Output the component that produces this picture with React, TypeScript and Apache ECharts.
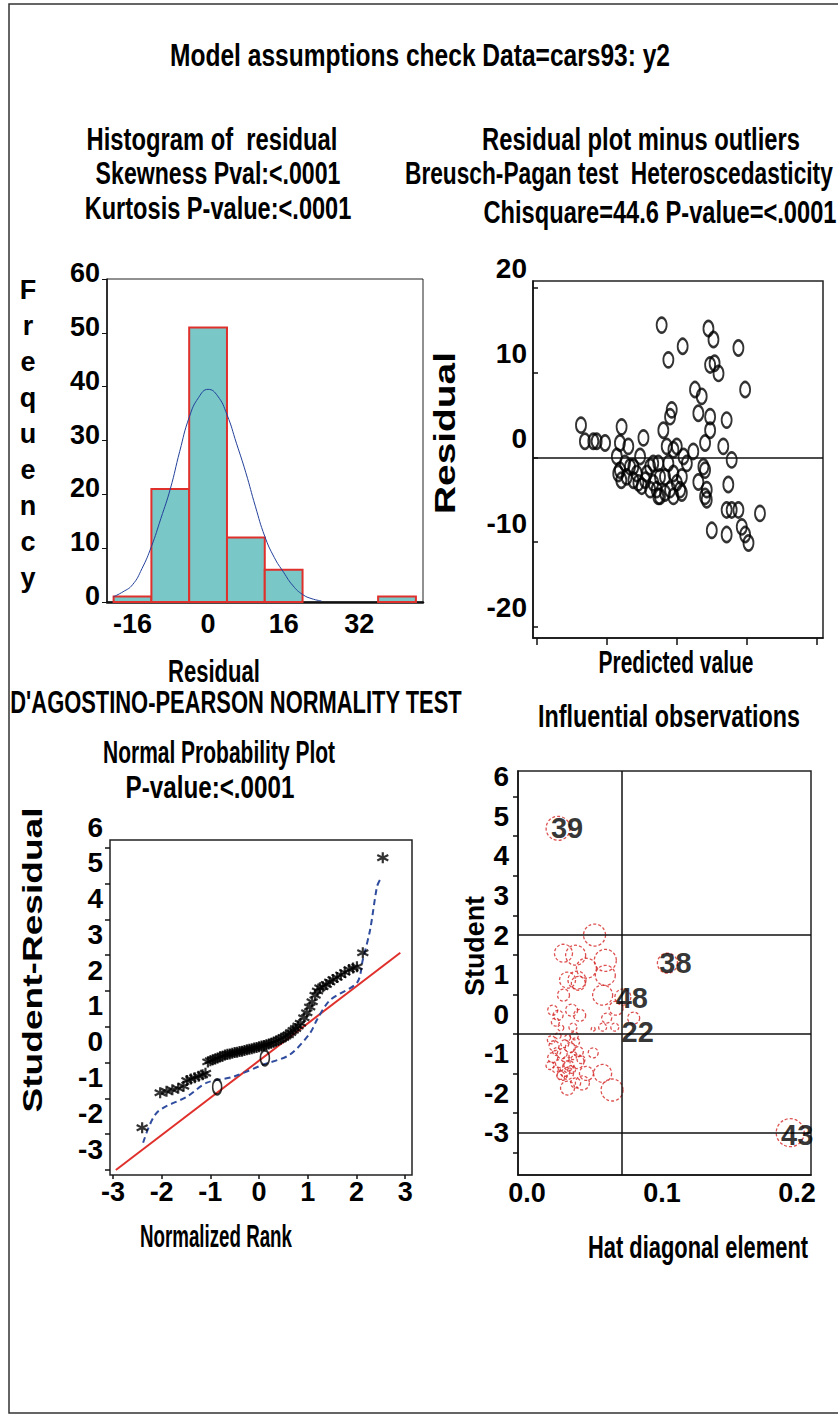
import React, { useEffect, useRef } from "react";
import * as echarts from "echarts";

// ---------- Histogram of residual ----------
const HIST_BIN_CENTERS = [-16, -8, 0, 8, 16, 24, 32, 40];
const HIST_COUNTS = [1, 21, 51, 12, 6, 0, 0, 1];
const HIST_BIN_WIDTH = 8;
const NORMAL_CURVE_X = [-20, -18, -16, -14, -12, -10, -8, -6, -4, -2, 0, 2, 4, 6, 8, 10, 12, 14, 16, 18, 20, 22, 24];
const NORMAL_CURVE_Y = [1.0, 1.9, 3.2, 6.2, 10.3, 15.5, 21, 28, 34.3, 38, 39.5, 38.3, 34.8, 29.5, 24, 17.8, 12.2, 8.3, 5.5, 3.0, 1.4, 0.6, 0.2];
const HIST_X_TICKS = [-16, 0, 16, 32];
const HIST_Y_TICKS = [0, 10, 20, 30, 40, 50, 60];

// ---------- Residual plot ----------
const RESID_PRED = [15.7, 17.1, 20.1, 21.3, 24.3, 30.2, 29.6, 32.6, 38, 28.5, 29.6, 30.1, 33.2, 35.6, 37.4, 34.4, 40.4, 41.5, 43.3, 45.1, 48.1, 47.5, 46.3, 46.9, 45.7, 47.5, 49.9, 52.3, 51.7, 51.7, 53.5, 55.8, 44.5, 46.9, 52, 56.4, 58.8, 57.6, 61.2, 63, 61.8, 63.4, 64.8, 61.8, 61.8, 60, 60, 57.6, 60.6, 60.6, 67.7, 66.5, 69.5, 71.9, 74.3, 68.3, 67.7, 69.5, 71.9, 62.4, 67.7, 73.1, 74.3, 75.5, 79.6, 31.4, 34.4, 39.2, 40.4, 42.7, 43.9, 48.7, 49.9, 48.7, 51.1, 48.7, 43.3, 41.5, 36.8, 29, 32, 36.2, 38.6, 45.7, 43.9, 59.4, 60];
const RESID_VAL = [3.8, 1.9, 1.9, 1.9, 1.7, 3.6, 1.7, 1.3, 2.3, 0.1, -1.5, -2.7, -1.1, -1.9, -3.4, -2.7, -1.1, -3.0, -4.6, 3.2, 5.6, 4.8, 1.3, -0.7, -2.3, -3.8, 1.3, 0.1, -2.3, -4.2, -0.7, 0.7, 15.6, 11.5, 13.1, 8.0, 7.2, 5.2, 15.2, 13.9, 10.9, 11.1, 9.9, 4.8, 3.2, 1.7, -1.5, -2.9, -3.8, -5.0, 4.4, 1.3, -0.3, 12.9, 8.0, -3.2, -6.2, -6.2, -6.2, -8.6, -9.1, -8.2, -9.1, -10.1, -6.6, -0.7, -1.1, -1.9, -3.8, -3.8, -2.3, -1.9, -3.0, -4.6, -3.8, 0.9, -0.7, -0.7, 0.1, -1.9, -2.3, -3.0, -2.7, -4.2, -4.6, -1.1, -4.6];
const RESID_Y_TICKS = [-20, -10, 0, 10, 20];
const RESID_X_TICKS = [0, 25, 50, 75, 100];

// ---------- Normal probability plot ----------
const NPP_RANK = [-2.40, -2.03, -1.90, -1.78, -1.66, -1.55, -1.48, -1.40, -1.32, -1.24, -1.16, -1.10,
  -1.05, -1.00, -0.95, -0.90, -0.85, -0.80, -0.75, -0.70, -0.65, -0.60, -0.55, -0.50, -0.45, -0.40, -0.35, -0.30,
  -0.25, -0.20, -0.15, -0.10, -0.05, 0.00, 0.05, 0.10, 0.15, 0.20, 0.25, 0.30, 0.35, 0.40, 0.45, 0.50, 0.55, 0.60,
  0.65, 0.70, 0.75, 0.80, 0.85, 0.92, 0.98, 1.04, 1.09, 1.15, 1.20, 1.25, 1.31, 1.38, 1.45, 1.52, 1.60, 1.68, 1.76,
  1.85, 1.93, 2.01, 2.13, 2.54];
const NPP_STUDENT = [-2.82, -1.84, -1.80, -1.76, -1.72, -1.66, -1.50, -1.46, -1.42, -1.38, -1.34, -1.30,
  -0.98, -0.95, -0.92, -0.90, -0.87, -0.84, -0.82, -0.79, -0.77, -0.76, -0.74, -0.72, -0.71, -0.69, -0.68, -0.66,
  -0.64, -0.63, -0.61, -0.59, -0.58, -0.56, -0.54, -0.52, -0.50, -0.48, -0.46, -0.43, -0.40, -0.37, -0.34, -0.30,
  -0.26, -0.22, -0.16, -0.10, -0.05, 0.02, 0.10, 0.25, 0.39, 0.55, 0.70, 0.88, 1.00, 1.09, 1.12, 1.18, 1.25, 1.32,
  1.38, 1.45, 1.52, 1.60, 1.64, 1.68, 2.07, 4.72];
const NPP_ENV_RANK = [-2.38, -2.10, -1.48, -1.07, -0.54, 0.08, 0.63, 1.05, 1.19, 1.46, 2.01, 2.13, 2.28, 2.42, 2.48];
const NPP_ENV_VAL = [-3.24, -2.40, -1.95, -1.56, -1.40, -1.06, -0.78, -0.17, 0.20, 0.75, 1.23, 1.87, 2.71, 3.91, 4.10];
const NPP_REF_RANK = [-2.94, 2.9];
const NPP_REF_VAL = [-4.0, 2.07];
const NPP_O_RANK = [-0.86, 0.12];
const NPP_O_VAL = [-1.68, -0.87];
const NPP_X_TICKS = [-3, -2, -1, 0, 1, 2, 3];
const NPP_Y_TICKS = [-4, -3, -2, -1, 0, 1, 2, 3, 4, 5];
const NPP_Y_LABELS = [-3, -2, -1, 0, 1, 2, 3, 4, 5, 6];

// ---------- Influential observations ----------
const INF_HAT = [0.023, 0.104, 0.071, 0.079, 0.195, 0.050, 0.027, 0.036, 0.044, 0.058, 0.058, 0.030, 0.037, 0.038,
  0.027, 0.056, 0.066, 0.019, 0.023, 0.033, 0.039, 0.021, 0.059, 0.056, 0.065, 0.049, 0.034, 0.025,
  0.018, 0.020, 0.022, 0.019, 0.024, 0.021, 0.026, 0.028, 0.030, 0.032, 0.034, 0.031, 0.036, 0.038, 0.040, 0.025,
  0.028, 0.017, 0.023, 0.035, 0.029, 0.033, 0.049, 0.037, 0.044, 0.056, 0.030, 0.030, 0.041, 0.036, 0.063, 0.026];
const INF_STUDENT = [4.7, 1.29, 0.43, -0.10, -3.0, 2.0, 1.54, 1.49, 1.16, 1.36, 0.98, 0.86, 0.86, 0.78,
  0.48, 0.48, 0.15, 0.10, -0.03, 0.10, -0.03, -0.20, -0.10, -0.33, -0.33, -0.38, -0.33, -0.35,
  -0.65, -0.80, -0.95, -1.10, -1.25, -1.40, -1.00, -0.75, -0.60, -0.85, -1.05, -1.30, -0.70, -0.95, -1.15, -1.55,
  -1.45, -1.30, -0.55, -0.55, -1.15, -1.40, -0.98, -1.20, -1.50, -1.50, -1.50, -1.87, -1.74, -1.74, -1.92, -1.55];
const INF_COOKD = [12, 10, 8, 6, 14, 11, 9, 10, 10, 11, 10, 8, 9, 7,
  6, 10, 7, 5, 5, 6, 6, 4, 5, 4, 4, 2, 4, 3,
  4, 5, 4, 5, 4, 3, 5, 4, 3, 5, 4, 5, 4, 5, 4, 4,
  5, 4, 3, 4, 3, 4, 5, 7, 7, 9, 6, 7, 7, 5, 11, 5];
const INF_LABEL_IDS = ["39", "38", "48", "22", "43"];
const INF_LABEL_HAT = [0.023, 0.104, 0.071, 0.079, 0.195];
const INF_LABEL_STUDENT = [4.7, 1.29, 0.43, -0.10, -3.0];
const INF_HAT_CUTOFF = 0.069;
const INF_STUDENT_REFS = [2, -0.5, -3];
const INF_X_TICKS = [0, 0.1, 0.2];
const INF_Y_LABELS = [-3, -2, -1, 0, 1, 2, 3, 4, 5, 6];
const INF_Y_TICKS = [-3.5, -2.5, -1.5, -0.5, 0.5, 1.5, 2.5, 3.5, 4.5, 5.5];

const FONT = "'Liberation Sans',Arial,'DejaVu Sans',sans-serif";
const INF_LABEL_OFFSETS: Record<string, number[]> = { "39": [9, 0], "38": [8, 0], "48": [9, 1], "22": [4, 14], "43": [7, 2] };

let measureCtx: CanvasRenderingContext2D | null = null;
function measure(text: string, size: number) {
  if (!measureCtx) measureCtx = document.createElement("canvas").getContext("2d");
  if (!measureCtx) return text.length * size * 0.6;
  measureCtx.font = `bold ${size}px ${FONT}`;
  return measureCtx.measureText(text).width;
}

// text element stretched along its own direction to a given span
function txt(text: string, x: number, y: number, size: number, span: number, opts: any = {}) {
  const w = measure(text, size);
  return {
    type: "text",
    x,
    y,
    rotation: opts.rotation || 0,
    scaleX: span / w,
    style: {
      text,
      fill: "#000",
      font: `bold ${size}px ${FONT}`,
      textAlign: opts.align || "center",
      textVerticalAlign: "middle",
    },
  };
}

export default function App() {
  const ref = useRef<HTMLDivElement>(null);
  useEffect(() => {
    if (!ref.current) return;
    const chart = echarts.init(ref.current, null, { renderer: "svg" });
    const axisFont = { color: "#000", fontFamily: FONT, fontWeight: "bold" as const };

    const freqLetters = "Frequency".split("").map((ch, i) => ({
      type: "text", x: 28, y: 290 + i * 36,
      style: { text: ch, fill: "#000", font: `bold 27px ${FONT}`, textAlign: "center", textVerticalAlign: "middle" },
    }));

    const option: any = {
      animation: false,
      backgroundColor: "#fff",
      grid: [
        { left: 107, top: 279, width: 316, height: 323, show: true, borderColor: "#222", borderWidth: 1 },
        { left: 533, top: 281, width: 290, height: 357, show: true, borderColor: "#222", borderWidth: 1.5 },
        { left: 110, top: 812, width: 302, height: 363, show: false },
        { left: 518, top: 771, width: 293, height: 404, show: true, borderColor: "#222", borderWidth: 1.5 },
      ],
      xAxis: [
        {
          gridIndex: 0, type: "value", min: -21.4, max: 45.5,
          splitLine: { show: false },
          axisLine: { onZero: false, lineStyle: { color: "#111", width: 2.5 } },
          axisTick: { show: false },
          axisLabel: { ...axisFont, fontSize: 27, margin: 8, customValues: HIST_X_TICKS },
        },
        {
          gridIndex: 1, type: "value", min: -1.43, max: 102.1,
          splitLine: { show: false },
          axisLine: { onZero: false, lineStyle: { color: "#111", width: 1.5 } },
          axisTick: { show: true, customValues: RESID_X_TICKS, length: 7, lineStyle: { color: "#111", width: 1.5 } },
          axisLabel: { show: false },
        },
        {
          gridIndex: 2, type: "value", min: -3.06, max: 3.14,
          splitLine: { show: false },
          axisLine: { show: false, onZero: false },
          axisTick: { show: true, customValues: NPP_X_TICKS, length: 4, lineStyle: { color: "#111", width: 1.5 } },
          axisLabel: { ...axisFont, fontSize: 27, margin: 3, customValues: NPP_X_TICKS },
        },
        {
          gridIndex: 3, type: "value", min: -0.0067, max: 0.2104,
          splitLine: { show: false },
          axisLine: { onZero: false, lineStyle: { color: "#111", width: 1.5 } },
          axisTick: { show: false },
          axisLabel: { ...axisFont, fontSize: 27, margin: 4, customValues: INF_X_TICKS, formatter: (v: number) => v.toFixed(1) },
        },
      ],
      yAxis: [
        {
          gridIndex: 0, type: "value", min: 0, max: 60,
          splitLine: { show: false },
          axisLine: { show: true, onZero: false, lineStyle: { color: "#111", width: 1.5 } },
          axisTick: { show: true, customValues: HIST_Y_TICKS, length: 5, lineStyle: { color: "#111" } },
          axisLabel: { ...axisFont, fontSize: 27, margin: 7, customValues: HIST_Y_TICKS, verticalAlign: "bottom", lineHeight: 12 },
        },
        {
          gridIndex: 1, type: "value", min: -21.3, max: 20.8,
          splitLine: { show: false },
          axisLine: { show: true, onZero: false, lineStyle: { color: "#111", width: 1.5 } },
          axisTick: { show: true, inside: true, customValues: RESID_Y_TICKS, length: 5, lineStyle: { color: "#111", width: 1.5 } },
          axisLabel: { ...axisFont, fontSize: 28, margin: 6, customValues: RESID_Y_TICKS, verticalAlign: "bottom", lineHeight: 38 },
        },
        {
          gridIndex: 2, type: "value", min: -4.14, max: 6,
          splitLine: { show: false },
          axisLine: { show: false, onZero: false },
          axisTick: { show: true, customValues: NPP_Y_TICKS, length: 5, lineStyle: { color: "#111", width: 1.5 } },
          axisLabel: { ...axisFont, fontSize: 28, margin: 7, customValues: NPP_Y_LABELS, verticalAlign: "top", lineHeight: 30 },
        },
        {
          gridIndex: 3, type: "value", min: -4.07, max: 6.15,
          splitLine: { show: false },
          axisLine: { show: true, onZero: false, lineStyle: { color: "#111", width: 1.5 } },
          axisTick: { show: true, customValues: INF_Y_TICKS, length: 5, lineStyle: { color: "#111", width: 1.5 } },
          axisLabel: { ...axisFont, fontSize: 28, margin: 9, customValues: INF_Y_LABELS },
        },
      ],
      series: [
        {
          type: "custom",
          xAxisIndex: 0, yAxisIndex: 0,
          data: HIST_BIN_CENTERS.map((c, i) => [c, HIST_COUNTS[i]]),
          renderItem: (params: any, api: any) => {
            const c = api.value(0);
            const n = api.value(1);
            if (!n) return null;
            const p0 = api.coord([c - HIST_BIN_WIDTH / 2, n]);
            const p1 = api.coord([c + HIST_BIN_WIDTH / 2, 0]);
            return {
              type: "rect",
              shape: { x: p0[0], y: p0[1], width: p1[0] - p0[0], height: p1[1] - p0[1] },
              style: { fill: "#79C7C7", stroke: "#E0302C", lineWidth: 2 },
            };
          },
          z: 2,
        },
        {
          type: "line", xAxisIndex: 0, yAxisIndex: 0, smooth: true, showSymbol: false,
          data: NORMAL_CURVE_X.map((x, i) => [x, NORMAL_CURVE_Y[i]]),
          lineStyle: { color: "#23409A", width: 1 }, z: 3,
        },
        {
          type: "scatter", xAxisIndex: 1, yAxisIndex: 1,
          data: RESID_PRED.map((x, i) => [x, RESID_VAL[i]]),
          symbol: "circle", symbolSize: [10, 15],
          itemStyle: { color: "rgba(0,0,0,0)", borderColor: "#000", borderWidth: 2.2 },
          markLine: {
            silent: true, symbol: "none", label: { show: false },
            lineStyle: { color: "#111", width: 1.5, type: "solid" },
            data: [{ yAxis: 0 }],
          },
        },
        {
          type: "line", xAxisIndex: 2, yAxisIndex: 2, showSymbol: false,
          data: NPP_REF_RANK.map((x, i) => [x, NPP_REF_VAL[i]]),
          lineStyle: { color: "#E0302C", width: 2 }, z: 2,
        },
        {
          type: "line", xAxisIndex: 2, yAxisIndex: 2, showSymbol: false, smooth: 0.3,
          data: NPP_ENV_RANK.map((x, i) => [x, NPP_ENV_VAL[i]]),
          lineStyle: { color: "#2F4C9E", width: 2, type: [6, 4] }, z: 3,
        },
        {
          type: "scatter", xAxisIndex: 2, yAxisIndex: 2,
          data: NPP_RANK.map((x, i) => [x, NPP_STUDENT[i]]),
          symbol: "path://M5,0L5,10M0.7,2.5L9.3,7.5M0.7,7.5L9.3,2.5",
          symbolSize: 11,
          itemStyle: { color: "rgba(0,0,0,0)", borderColor: "#000", borderWidth: 2.2 },
          z: 4,
        },
        {
          type: "scatter", xAxisIndex: 2, yAxisIndex: 2,
          data: NPP_O_RANK.map((x, i) => [x, NPP_O_VAL[i]]),
          symbol: "circle", symbolSize: [9, 15],
          itemStyle: { color: "rgba(0,0,0,0)", borderColor: "#000", borderWidth: 2 },
          z: 4,
        },
        {
          type: "scatter", xAxisIndex: 3, yAxisIndex: 3,
          data: INF_HAT.map((x, i) => [x, INF_STUDENT[i], INF_COOKD[i]]),
          symbol: "circle",
          symbolSize: (v: number[]) => v[2] * 2,
          itemStyle: { color: "rgba(0,0,0,0)", borderColor: "#D42424", borderWidth: 1.3, borderType: [3, 2] },
          markLine: {
            silent: true, symbol: "none", label: { show: false },
            lineStyle: { color: "#111", width: 1.5, type: "solid" },
            data: [{ xAxis: INF_HAT_CUTOFF }, ...INF_STUDENT_REFS.map((v) => ({ yAxis: v }))],
          },
          z: 3,
        },
        {
          type: "scatter", xAxisIndex: 3, yAxisIndex: 3,
          data: INF_LABEL_IDS.map((id, i) => ({ name: id, value: [INF_LABEL_HAT[i], INF_LABEL_STUDENT[i]] })),
          symbolSize: 0,
          label: {
            show: true,
            position: "inside",
            formatter: (p: any) => p.name,
            fontSize: 29, fontWeight: "bold", fontFamily: FONT, color: "#000",
            textBorderWidth: 0, textShadowBlur: 0,
          },
          labelLayout: (p: any) => {
            const off = INF_LABEL_OFFSETS[INF_LABEL_IDS[p.dataIndex]] || [0, 0];
            return { dx: off[0], dy: off[1] };
          },
          z: 5,
        },
      ],
      graphic: [
        { type: "rect", shape: { x: 9, y: 4, width: 840, height: 1409 }, style: { fill: "none", stroke: "#333", lineWidth: 1.5 }, z: -1 },
        { type: "rect", shape: { x: 110, y: 840, width: 302, height: 335 }, style: { fill: "none", stroke: "#222", lineWidth: 1.5 } },
        txt("Model assumptions check Data=cars93: y2", 420, 55, 31, 500),
        txt("Histogram of  residual", 212, 139, 31, 251),
        txt("Skewness Pval:<.0001", 218, 173, 31, 245),
        txt("Kurtosis P-value:<.0001", 218, 208, 31, 267),
        txt("Residual plot minus outliers", 641, 139, 31, 318),
        txt("Breusch-Pagan test  Heteroscedasticity", 405, 173, 31, 428, { align: "left" }),
        txt("Chisquare=44.6 P-value=<.0001", 660, 212, 31, 353),
        ...freqLetters,
        txt("Residual", 445, 433, 29, 162, { rotation: Math.PI / 2 }),
        txt("Residual", 214, 672, 31, 92),
        txt("D'AGOSTINO-PEARSON NORMALITY TEST", 236, 703, 31, 452),
        txt("Predicted value", 676, 662, 31, 155),
        txt("Influential observations", 669, 716, 31, 262),
        txt("Normal Probability Plot", 219, 752, 31, 232),
        txt("P-value:<.0001", 210, 787, 31, 169),
        txt("Student-Residual", 33, 960, 27, 305, { rotation: Math.PI / 2 }),
        txt("Normalized Rank", 216, 1236, 31, 152),
        txt("Student", 475, 946, 27, 100, { rotation: Math.PI / 2 }),
        txt("Hat diagonal element", 698, 1248, 31, 220),
      ],
    };
    chart.setOption(option);
    return () => chart.dispose();
  }, []);
  return <div ref={ref} style={{ position: "fixed", left: 0, top: 0, width: 838, height: 1416, background: "#fff" }} />;
}
